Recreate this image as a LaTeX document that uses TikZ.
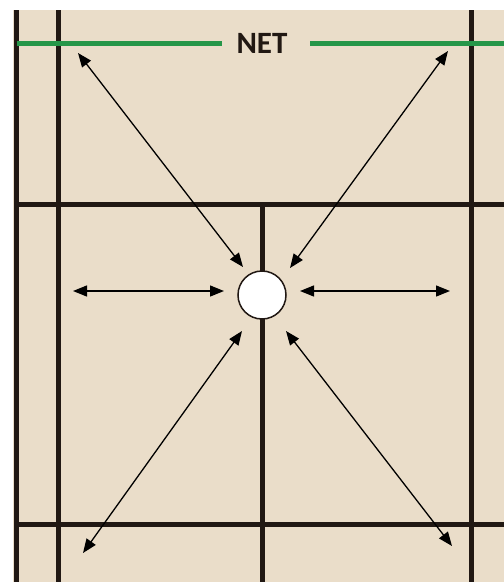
\documentclass[tikz,border=0pt]{standalone}
\usepackage{fontspec}
\setmainfont{Carlito}
\usetikzlibrary{arrows.meta,positioning}

\definecolor{courtfill}{RGB}{234,221,201}
\definecolor{linecol}{RGB}{33,24,19}
\definecolor{netgreen}{RGB}{38,150,72}

\begin{document}
\begin{tikzpicture}[
    x=1pt, y=-1pt,
    courtline/.style={draw=linecol, line width=5pt},
    netline/.style={draw=netgreen, line width=5pt},
    move/.style={{Triangle[length=14pt,width=11pt]}-{Triangle[length=14pt,width=11pt]}, line width=1.3pt, draw=black},
    basenode/.style={circle, draw=linecol, line width=1.5pt, fill=white, minimum size=48pt, inner sep=0pt}
]
\useasboundingbox (0,0) rectangle (504,582);
\fill[courtfill] (13,10) rectangle (504,582);

% court lines
\draw[courtline] (16,10) -- (16,582);
\draw[courtline] (58,10) -- (58,582);
\draw[courtline] (471,10) -- (471,582);
\draw[courtline] (16,204) -- (504,204);
\draw[courtline] (16,524) -- (504,524);
\draw[courtline] (262,204) -- (262,582);

% net
\node[font=\bfseries\fontsize{31}{36}\selectfont, text=linecol, inner sep=0pt] (net) at (262,43) {NET};
\draw[netline] (17,43) -- (222,43);
\draw[netline] (310,43) -- (504,43);

% base position
\node[basenode] (base) at (262,295) {};

\coordinate (fl) at (78,53);
\coordinate (fr) at (448,51);
\coordinate (ml) at (73,291);
\coordinate (mr) at (450,291);
\coordinate (bl) at (83,553);
\coordinate (br) at (452,546);
\coordinate (bfl) at (243,267);
\coordinate (bfr) at (290,268);
\coordinate (bml) at (224,291);
\coordinate (bmr) at (300,291);
\coordinate (bbl) at (242,331);
\coordinate (bbr) at (286,331);

\draw[move] (fl) -- (bfl);
\draw[move] (fr) -- (bfr);
\draw[move] (ml) -- (bml);
\draw[move] (bmr) -- (mr);
\draw[move] (bl) -- (bbl);
\draw[move] (bbr) -- (br);

\end{tikzpicture}
\end{document}
